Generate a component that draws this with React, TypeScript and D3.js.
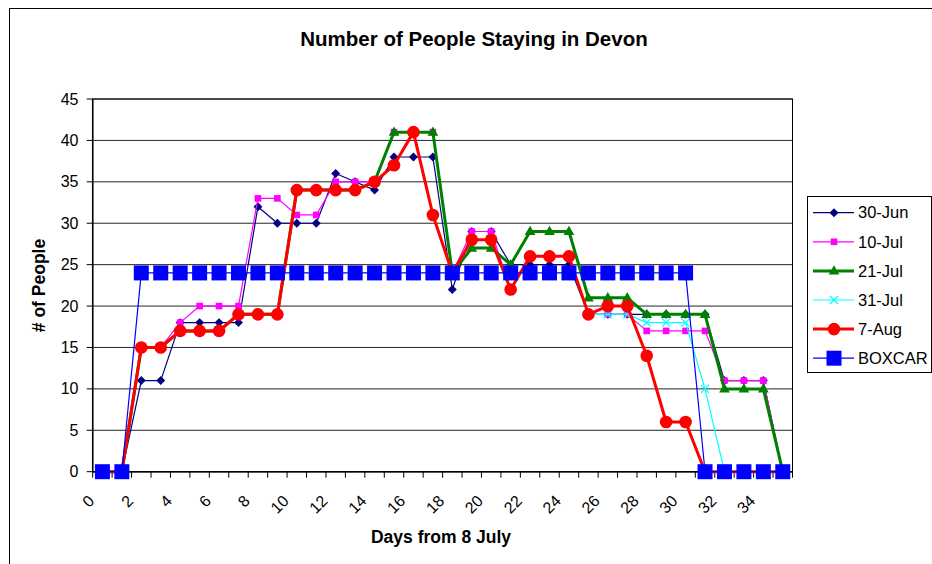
import { line, scaleBand, scaleLinear, symbol, symbolCircle, symbolSquare, symbolTriangle } from 'd3'

// days from 8 July (categories) and the surveys
const days = [
  '0', '1', '2', '3', '4', '5', '6', '7', '8', '9', '10', '11',
  '12', '13', '14', '15', '16', '17', '18', '19', '20', '21', '22', '23',
  '24', '25', '26', '27', '28', '29', '30', '31', '32', '33', '34', '35',
]
const yTicks = [0, 5, 10, 15, 20, 25, 30, 35, 40, 45]

const jun30 = [0, 0, 11, 11, 18, 18, 18, 18, 32, 30, 30, 30, 36, 35, 34, 38, 38, 38, 22, 29, 29, 25, 25, 25, 25, 19, 19, 19, 19, 19, 19, 19, 11, 11, 11, 0]
const jul10 = [0, 0, 15, 15, 18, 20, 20, 20, 33, 33, 31, 31, 35, 35, 35, 41, 41, 41, 24, 29, 29, 22, 26, 26, 26, 19, 19, 19, 17, 17, 17, 17, 11, 11, 11, 0]
const jul21 = [0, 0, 15, 15, 17, 17, 17, 19, 19, 19, 34, 34, 34, 34, 35, 41, 41, 41, 24, 27, 27, 25, 29, 29, 29, 21, 21, 21, 19, 19, 19, 19, 10, 10, 10, 0]
const jul31 = [0, 0, 15, 15, 17, 17, 17, 19, 19, 19, 34, 34, 34, 34, 35, 37, 41, 31, 24, 28, 28, 22, 26, 26, 26, 19, 19, 19, 18, 18, 18, 10, 0, 0, 0, 0]
const aug7 = [0, 0, 15, 15, 17, 17, 17, 19, 19, 19, 34, 34, 34, 34, 35, 37, 41, 31, 24, 28, 28, 22, 26, 26, 26, 19, 20, 20, 14, 6, 6, 0, 0, 0, 0, 0]
const boxcar = [0, 0, 24, 24, 24, 24, 24, 24, 24, 24, 24, 24, 24, 24, 24, 24, 24, 24, 24, 24, 24, 24, 24, 24, 24, 24, 24, 24, 24, 24, 24, 0, 0, 0, 0, 0]

const seriesNames = ['30-Jun', '10-Jul', '21-Jul', '31-Jul', '7-Aug', 'BOXCAR']
const seriesValues = [jun30, jul10, jul21, jul31, aug7, boxcar]

// looks of each series, same order as above
const styles = [
  { color: '#000080', width: 1.2, marker: 'diamond' },
  { color: '#FF00FF', width: 1.2, marker: 'square' },
  { color: '#008000', width: 3, marker: 'triangle' },
  { color: '#00FFFF', width: 1.2, marker: 'x' },
  { color: '#FF0000', width: 3, marker: 'circle' },
  { color: '#0000FF', width: 1.2, marker: 'bigsquare' },
]

const font = 'Arial, "Liberation Sans", sans-serif'

const Marker = ({ kind, color, x, y }) => {
  if (kind === 'diamond')
    return <path d={symbol(symbolSquare, 40)()} fill={color} transform={`translate(${x},${y}) rotate(45)`} />
  if (kind === 'square')
    return <path d={symbol(symbolSquare, 44)()} fill={color} transform={`translate(${x},${y})`} />
  if (kind === 'bigsquare')
    return <path d={symbol(symbolSquare, 225)()} fill={color} transform={`translate(${x},${y})`} />
  if (kind === 'triangle')
    return <path d={symbol(symbolTriangle, 50)()} fill={color} transform={`translate(${x},${y + 0.5})`} />
  if (kind === 'circle')
    return <path d={symbol(symbolCircle, 125)()} fill={color} transform={`translate(${x},${y})`} />
  // x mark
  return <path d="M-4,-4L4,4M-4,4L4,-4" stroke={color} strokeWidth={1.3} fill="none" transform={`translate(${x},${y})`} />
}

const App = () => {
  const width = 932
  const height = 564
  const plot = { left: 92.7, right: 792.5, top: 99, bottom: 471.7 }

  const x = scaleBand().domain(days).range([plot.left, plot.right]).padding(0)
  const y = scaleLinear().domain([0, 45]).range([plot.bottom, plot.top])
  const cx = (d) => x(d) + x.bandwidth() / 2

  const lineGen = line()
    .x((d, i) => cx(days[i]))
    .y((d) => y(d))

  const tickXs = days.map((d) => x(d)).concat([plot.right])

  return (
    <svg width={width} height={height} style={{ position: 'absolute', left: 0, top: 0, background: '#fff' }} fontFamily={font}>
      <rect x={9.5} y={8.5} width={1000} height={1000} fill="#fff" stroke="#000" strokeWidth={1} />

      <text x={474} y={46} textAnchor="middle" fontSize={20.5} fontWeight="bold">Number of People Staying in Devon</text>

      {/* gridlines */}
      {yTicks.map((t) => (
        <line key={t} x1={plot.left} x2={plot.right} y1={y(t)} y2={y(t)} stroke="#000" strokeWidth={1} opacity={0.85} />
      ))}
      <rect x={plot.left} y={plot.top} width={plot.right - plot.left} height={plot.bottom - plot.top} fill="none" stroke="#000" strokeWidth={1} />

      {/* y axis */}
      <line x1={plot.left} x2={plot.left} y1={plot.top} y2={plot.bottom} stroke="#000" strokeWidth={1.5} />
      {yTicks.map((t) => (
        <g key={t}>
          <line x1={plot.left - 6} x2={plot.left} y1={y(t)} y2={y(t)} stroke="#000" />
          <text x={78.5} y={y(t)} dy="0.35em" textAnchor="end" fontSize={16}>{t}</text>
        </g>
      ))}

      {/* x axis */}
      <line x1={plot.left} x2={plot.right} y1={plot.bottom} y2={plot.bottom} stroke="#000" strokeWidth={1.5} />
      {tickXs.map((tx, i) => (
        <line key={i} x1={tx} x2={tx} y1={plot.bottom} y2={plot.bottom + 6} stroke="#000" />
      ))}
      {days.filter((d, i) => i % 2 === 0).map((d) => (
        <text key={d} transform={`translate(${cx(d) - 11},${498}) rotate(-45)`} dy="0.35em" textAnchor="end" fontSize={16}>{d}</text>
      ))}

      {/* series */}
      {seriesValues.map((vals, s) => (
        <g key={seriesNames[s]}>
          <path d={lineGen(vals)} fill="none" stroke={styles[s].color} strokeWidth={styles[s].width} strokeLinejoin="round" />
          {vals.map((v, i) => (
            <Marker key={i} kind={styles[s].marker} color={styles[s].color} x={cx(days[i])} y={y(v)} />
          ))}
        </g>
      ))}

      <text x={441} y={543} textAnchor="middle" fontSize={17.5} fontWeight="bold">Days from 8 July</text>
      <text transform={`translate(45,285.5) rotate(-90)`} textAnchor="middle" fontSize={17.5} fontWeight="bold"># of People</text>

      {/* legend */}
      <rect x={807.5} y={196.5} width={124} height={176} fill="#fff" stroke="#000" strokeWidth={1} />
      {seriesNames.map((name, i) => {
        const ly = 212.7 + i * 29.1
        return (
          <g key={name}>
            <line x1={813} x2={854} y1={ly} y2={ly} stroke={styles[i].color} strokeWidth={styles[i].width} />
            <Marker kind={styles[i].marker} color={styles[i].color} x={834} y={ly} />
            <text x={858} y={ly} dy="0.35em" fontSize={16.5}>{name}</text>
          </g>
        )
      })}
    </svg>
  )
}

export default App
